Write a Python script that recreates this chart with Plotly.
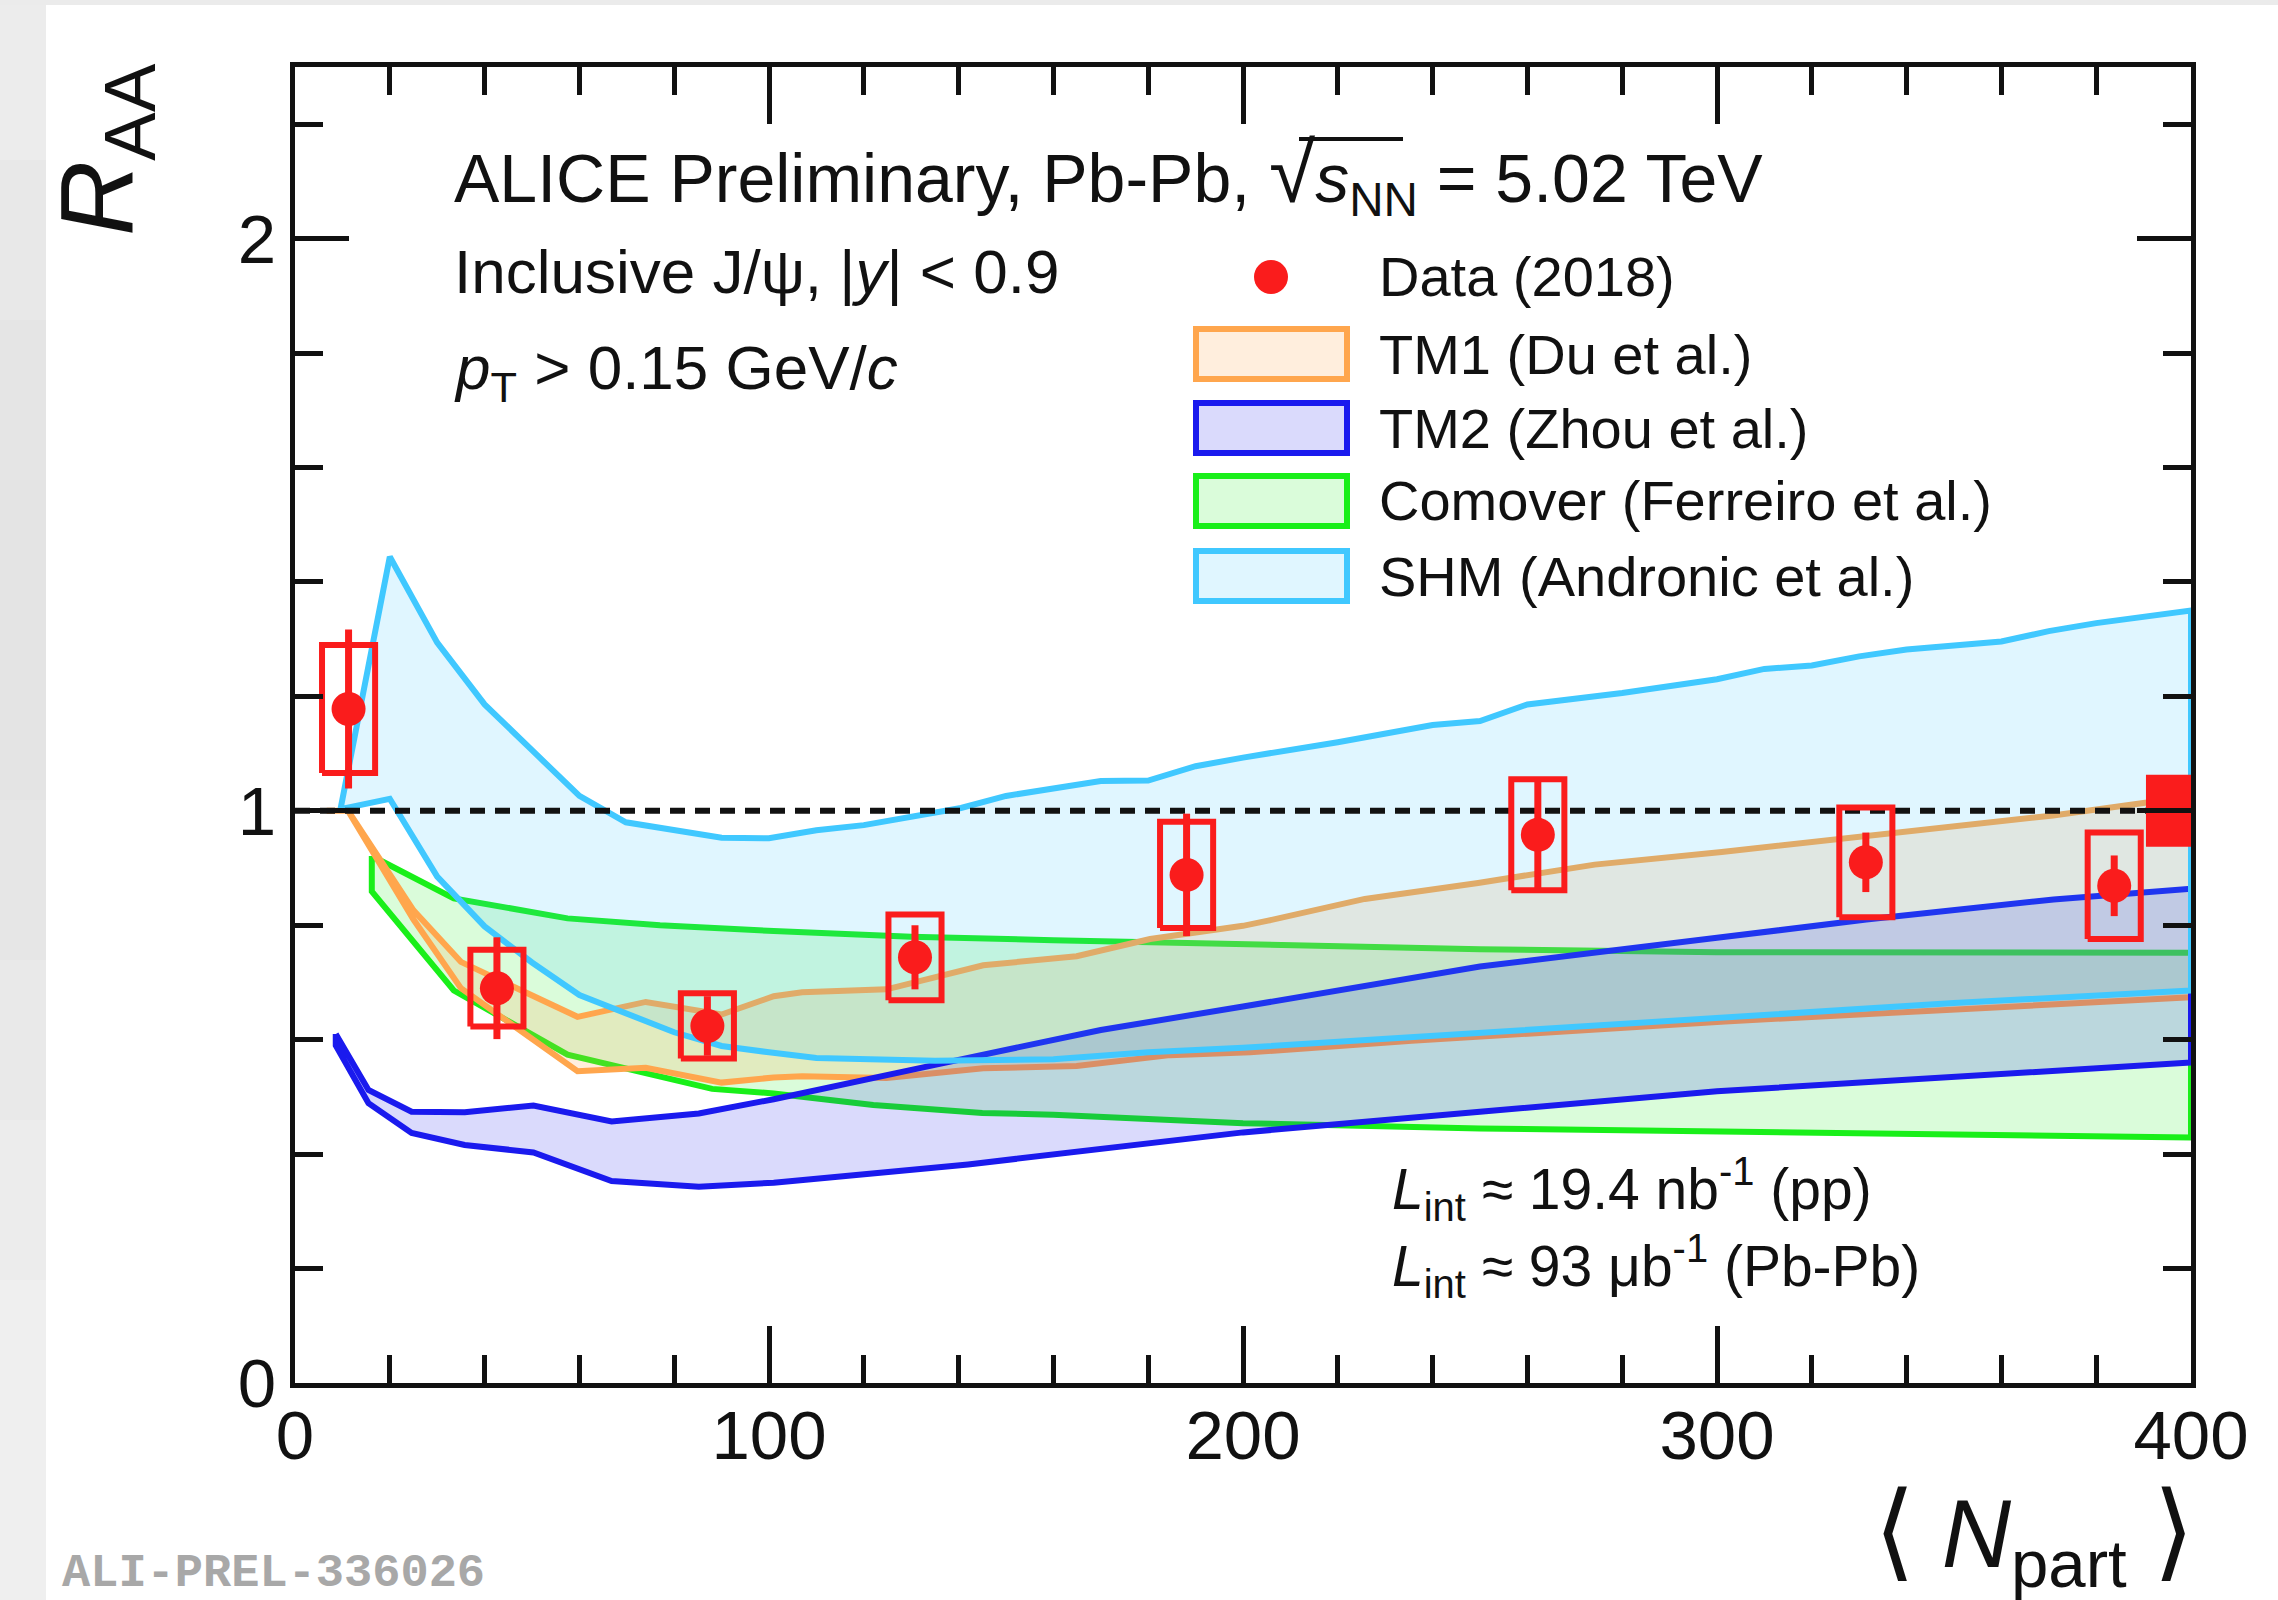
import plotly.graph_objects as go

# ---------------------------------------------------------------- data
# Inclusive J/psi R_AA vs <Npart>, Pb-Pb 5.02 TeV
npart = [11.3, 42.6, 87.0, 130.8, 188.1, 262.2, 331.4, 383.8]
raa = [1.178, 0.690, 0.624, 0.744, 0.888, 0.958, 0.910, 0.869]
raa_stat = [0.139, 0.089, 0.052, 0.056, 0.107, 0.094, 0.052, 0.053]
raa_syst = [0.112, 0.067, 0.057, 0.075, 0.093, 0.097, 0.096, 0.093]
global_unc = 0.063

# TM1 (Du et al.)
tm1_up_x = [6.7, 11.2, 25.0, 35.0, 59.6, 74.0, 90.0, 101.0, 107.0, 124.8, 145.2, 164.9, 180.4,
            200.0, 205.3, 225.7, 249.6, 274.2, 301.0, 331.5, 370.9, 390.3, 400.0]
tm1_up_y = [1.0, 1.0, 0.826, 0.736, 0.640, 0.666, 0.644, 0.676, 0.683, 0.688, 0.730, 0.746, 0.776,
            0.799, 0.808, 0.846, 0.874, 0.906, 0.928, 0.957, 0.992, 1.014, 1.020]
tm1_lo_x = [6.7, 11.2, 25.0, 35.0, 59.6, 74.0, 90.0, 101.0, 107.0, 124.8, 145.2, 164.9, 184.6,
            201.5, 235.6, 301.7, 350.0, 400.0]
tm1_lo_y = [1.0, 1.0, 0.810, 0.690, 0.545, 0.551, 0.525, 0.534, 0.536, 0.533, 0.550, 0.554, 0.573,
            0.578, 0.598, 0.632, 0.653, 0.674]

# TM2 (Zhou et al.)
tm2_up_x = [8.6, 15.5, 24.6, 35.8, 50.3, 66.8, 85.2, 101.0, 135.0, 170.0, 200.0, 250.0, 300.0,
            331.5, 371.0, 400.0]
tm2_up_y = [0.610, 0.512, 0.474, 0.473, 0.485, 0.457, 0.471, 0.496, 0.556, 0.617, 0.658, 0.728,
            0.778, 0.810, 0.845, 0.864]
tm2_lo_x = [8.6, 15.5, 24.6, 35.8, 50.3, 66.8, 85.2, 101.0, 142.0, 200.0, 250.0, 300.0, 350.0, 400.0]
tm2_lo_y = [0.590, 0.489, 0.437, 0.416, 0.403, 0.353, 0.343, 0.350, 0.382, 0.438, 0.474, 0.510,
            0.536, 0.560]

# Comover (Ferreiro et al.)
com_up_x = [16.2, 33.5, 57.5, 77.0, 101.0, 130.0, 160.0, 200.0, 250.0, 300.0, 400.0]
com_up_y = [0.921, 0.847, 0.812, 0.800, 0.790, 0.780, 0.774, 0.766, 0.758, 0.753, 0.752]
com_lo_x = [16.2, 33.5, 57.5, 88.0, 101.0, 122.0, 145.0, 160.0, 180.0, 200.0, 250.0, 300.0, 400.0]
com_lo_y = [0.859, 0.686, 0.574, 0.514, 0.506, 0.486, 0.472, 0.469, 0.462, 0.454, 0.445, 0.439, 0.429]

# SHM (Andronic et al.)
shm_up_x = [9.6, 20.0, 30.0, 40.0, 50.0, 60.0, 69.8, 80.0, 90.0, 100.0, 110.0, 120.0, 130.4, 140.5,
            150.0, 160.0, 170.0, 180.0, 190.0, 200.0, 220.0, 240.0, 250.0, 260.0, 280.0, 300.0,
            310.0, 320.0, 330.0, 340.0, 360.0, 370.0, 380.0, 400.0]
shm_up_y = [1.003, 1.444, 1.294, 1.186, 1.106, 1.026, 0.980, 0.967, 0.953, 0.952, 0.966, 0.975, 0.990,
            1.005, 1.026, 1.040, 1.052, 1.053, 1.078, 1.093, 1.120, 1.150, 1.157, 1.186, 1.206,
            1.230, 1.248, 1.254, 1.270, 1.282, 1.296, 1.314, 1.328, 1.350]
shm_lo_x = [9.6, 20.0, 30.0, 40.0, 50.0, 60.0, 69.8, 80.0, 90.0, 100.0, 110.0, 120.0, 135.0, 160.0,
            180.0, 200.0, 250.0, 300.0, 350.0, 400.0]
shm_lo_y = [1.003, 1.021, 0.885, 0.798, 0.735, 0.678, 0.645, 0.613, 0.589, 0.578, 0.568, 0.566, 0.563,
            0.566, 0.578, 0.586, 0.610, 0.638, 0.664, 0.686]

# axis ticks
x_ticks = [0, 100, 200, 300, 400]
y_ticks = [0, 1, 2]

# ---------------------------------------------------------------- style
W, H = 2278, 1600
ML, MR, MT, MB = 295, 87, 67, 217
PW, PH = W - ML - MR, H - MT - MB
FONT = "Liberation Sans"
INK = "#111111"
RED = "#fa1c1c"

models = [
    # name, upper, lower, line colour, fill colour
    ("Comover (Ferreiro et al.)", com_up_x, com_up_y, com_lo_x, com_lo_y, "#19ef19", "rgba(25,239,25,0.16)"),
    ("TM1 (Du et al.)", tm1_up_x, tm1_up_y, tm1_lo_x, tm1_lo_y, "#ffa64d", "rgba(255,166,77,0.19)"),
    ("TM2 (Zhou et al.)", tm2_up_x, tm2_up_y, tm2_lo_x, tm2_lo_y, "#1a1aee", "rgba(26,26,238,0.16)"),
    ("SHM (Andronic et al.)", shm_up_x, shm_up_y, shm_lo_x, shm_lo_y, "#40c8ff", "rgba(64,200,255,0.16)"),
]


def px(xp):
    """pixel column -> paper x"""
    return (xp - ML) / PW


def py(yp):
    """pixel row -> paper y"""
    return (H - MB - yp) / PH


fig = go.Figure()

# model bands: closed polygon upper -> reversed lower
for name, ux, uy, lx, ly, lc, fc in models:
    fig.add_trace(go.Scatter(
        x=ux + lx[::-1] + [ux[0]], y=uy + ly[::-1] + [uy[0]],
        mode="lines", fill="toself", fillcolor=fc,
        line=dict(color=lc, width=6), name=name, hoverinfo="skip"))

# unity reference line
fig.add_trace(go.Scatter(x=[x_ticks[0], x_ticks[-1]], y=[1, 1], mode="lines",
                         line=dict(color=INK, width=6, dash="15px,10px"), hoverinfo="skip"))

# systematic boxes
half_w = 5.6
bx, by = [], []
for x, y, s in zip(npart, raa, raa_syst):
    bx += [x - half_w, x + half_w, x + half_w, x - half_w, x - half_w, None]
    by += [y - s, y - s, y + s, y + s, y - s, None]
fig.add_trace(go.Scatter(x=bx, y=by, mode="lines", line=dict(color=RED, width=6), hoverinfo="skip"))

# data points with statistical errors
fig.add_trace(go.Scatter(
    x=npart, y=raa, mode="markers", name="Data (2018)",
    marker=dict(size=34, color=RED),
    error_y=dict(type="data", array=raa_stat, thickness=7, width=0, color=RED)))

# global uncertainty box at unity
gx0 = x_ticks[-1] - 9.5
fig.add_trace(go.Scatter(
    x=[gx0, x_ticks[-1], x_ticks[-1], gx0, gx0],
    y=[1 - global_unc, 1 - global_unc, 1 + global_unc, 1 + global_unc, 1 - global_unc],
    mode="lines", fill="toself", fillcolor=RED, line=dict(width=0, color=RED), hoverinfo="skip"))

# ---------------------------------------------------------------- decorations
shapes = []
# grey frame strips around the canvas
strip = [(0, 160, "#ececec"), (160, 320, "#e8e8e8"), (320, 480, "#e5e5e5"), (480, 800, "#e4e4e4"),
         (800, 960, "#e6e6e6"), (960, 1120, "#e9e9e9"), (1120, 1280, "#ececec"), (1280, 1600, "#efefef")]
for y0, y1, c in strip:
    shapes.append(dict(type="rect", xref="paper", yref="paper", x0=px(0), x1=px(46),
                       y0=py(y1), y1=py(y0), fillcolor=c, line=dict(width=0), layer="below"))
shapes.append(dict(type="rect", xref="paper", yref="paper", x0=px(0), x1=px(W),
                   y0=py(5), y1=py(0), fillcolor="#ebebeb", line=dict(width=0), layer="below"))

annotations = []

# legend
leg_box_x0, leg_box_x1, leg_text_x = 1196, 1347, 1377
leg_rows = [277, 354, 428, 501, 576]
shapes.append(dict(type="circle", xref="paper", yref="paper",
                   x0=px(1271 - 17), x1=px(1271 + 17), y0=py(leg_rows[0] + 17), y1=py(leg_rows[0] - 17),
                   fillcolor=RED, line=dict(width=0)))
annotations.append(dict(text="Data (2018)", x=px(leg_text_x), y=py(leg_rows[0]), xref="paper", yref="paper",
                        xanchor="left", yanchor="middle", showarrow=False,
                        font=dict(family=FONT, size=56, color=INK)))
legend_order = [models[1], models[2], models[0], models[3]]
for row, (name, _, _, _, _, lc, fc) in zip(leg_rows[1:], legend_order):
    shapes.append(dict(type="rect", xref="paper", yref="paper",
                       x0=px(leg_box_x0), x1=px(leg_box_x1), y0=py(row + 25), y1=py(row - 25),
                       fillcolor=fc, line=dict(color=lc, width=6)))
    annotations.append(dict(text=name, x=px(leg_text_x), y=py(row), xref="paper", yref="paper",
                            xanchor="left", yanchor="middle", showarrow=False,
                            font=dict(family=FONT, size=56, color=INK)))

# vinculum of the square root in the header
shapes.append(dict(type="line", xref="paper", yref="paper", x0=px(1299), x1=px(1403),
                   y0=py(139), y1=py(139), line=dict(color=INK, width=4)))

# header texts
annotations += [
    dict(text="ALICE Preliminary, Pb-Pb, <span style=\"font-size:84px\">√</span><i>s</i><sub>NN</sub> = 5.02 TeV",
         x=px(452), y=py(176), xref="paper", yref="paper", xanchor="left", yanchor="middle",
         showarrow=False, font=dict(family=FONT, size=68, color=INK)),
    dict(text="Inclusive J/ψ, |<i>y</i>| &lt; 0.9",
         x=px(452), y=py(271), xref="paper", yref="paper", xanchor="left", yanchor="middle",
         showarrow=False, font=dict(family=FONT, size=62, color=INK)),
    dict(text="<i>p</i><sub>T</sub> &gt; 0.15 GeV/<i>c</i>",
         x=px(452), y=py(372), xref="paper", yref="paper", xanchor="left", yanchor="middle",
         showarrow=False, font=dict(family=FONT, size=62, color=INK)),
    dict(text="<i>L</i><sub>int</sub> ≈ 19.4 nb<sup>-1</sup> (pp)",
         x=px(1390), y=py(1189), xref="paper", yref="paper", xanchor="left", yanchor="middle",
         showarrow=False, font=dict(family=FONT, size=57, color=INK)),
    dict(text="<i>L</i><sub>int</sub> ≈ 93 μb<sup>-1</sup> (Pb-Pb)",
         x=px(1390), y=py(1266), xref="paper", yref="paper", xanchor="left", yanchor="middle",
         showarrow=False, font=dict(family=FONT, size=57, color=INK)),
    # axis titles
    dict(text="<i>R</i><sub>AA</sub>", x=px(105), y=py(150), xref="paper", yref="paper",
         xanchor="center", yanchor="middle", textangle=-90, showarrow=False,
         font=dict(family=FONT, size=104, color=INK)),
    dict(text="<span style=\"font-size:106px\">⟨</span> <i>N</i><sub>part</sub> <span style=\"font-size:106px\">⟩</span>",
         x=px(2196), y=py(1536), xref="paper", yref="paper", xanchor="right", yanchor="middle",
         showarrow=False, font=dict(family=FONT, size=96, color=INK)),
    # figure id
    dict(text="<b>ALI-PREL-336026</b>", x=px(60), y=py(1573), xref="paper", yref="paper",
         xanchor="left", yanchor="middle", showarrow=False,
         font=dict(family="Liberation Mono", size=47, color="#a8a8a8")),
]

axis_common = dict(
    ticks="inside", tickwidth=5, tickcolor=INK,
    showline=True, linewidth=5, linecolor=INK, mirror="ticks",
    showgrid=False, zeroline=False,
    tickfont=dict(family=FONT, size=69, color=INK),
)

fig.update_layout(
    width=W, height=H,
    margin=dict(l=ML, r=MR, t=MT, b=MB, pad=0),
    paper_bgcolor="white", plot_bgcolor="white",
    showlegend=False,
    xaxis=dict(range=[x_ticks[0], x_ticks[-1]], tickmode="array", tickvals=x_ticks, ticklen=57,
               ticklabelstandoff=-12,
               minor=dict(dtick=20, tick0=0, ticks="inside", ticklen=28, tickwidth=5, tickcolor=INK),
               **axis_common),
    yaxis=dict(range=[0, 2.3], tickmode="array", tickvals=y_ticks, ticklen=54,
               minor=dict(dtick=0.2, tick0=0, ticks="inside", ticklen=28, tickwidth=5, tickcolor=INK),
               **axis_common),
    shapes=shapes,
    annotations=annotations,
)

fig.write_html("out.html")
